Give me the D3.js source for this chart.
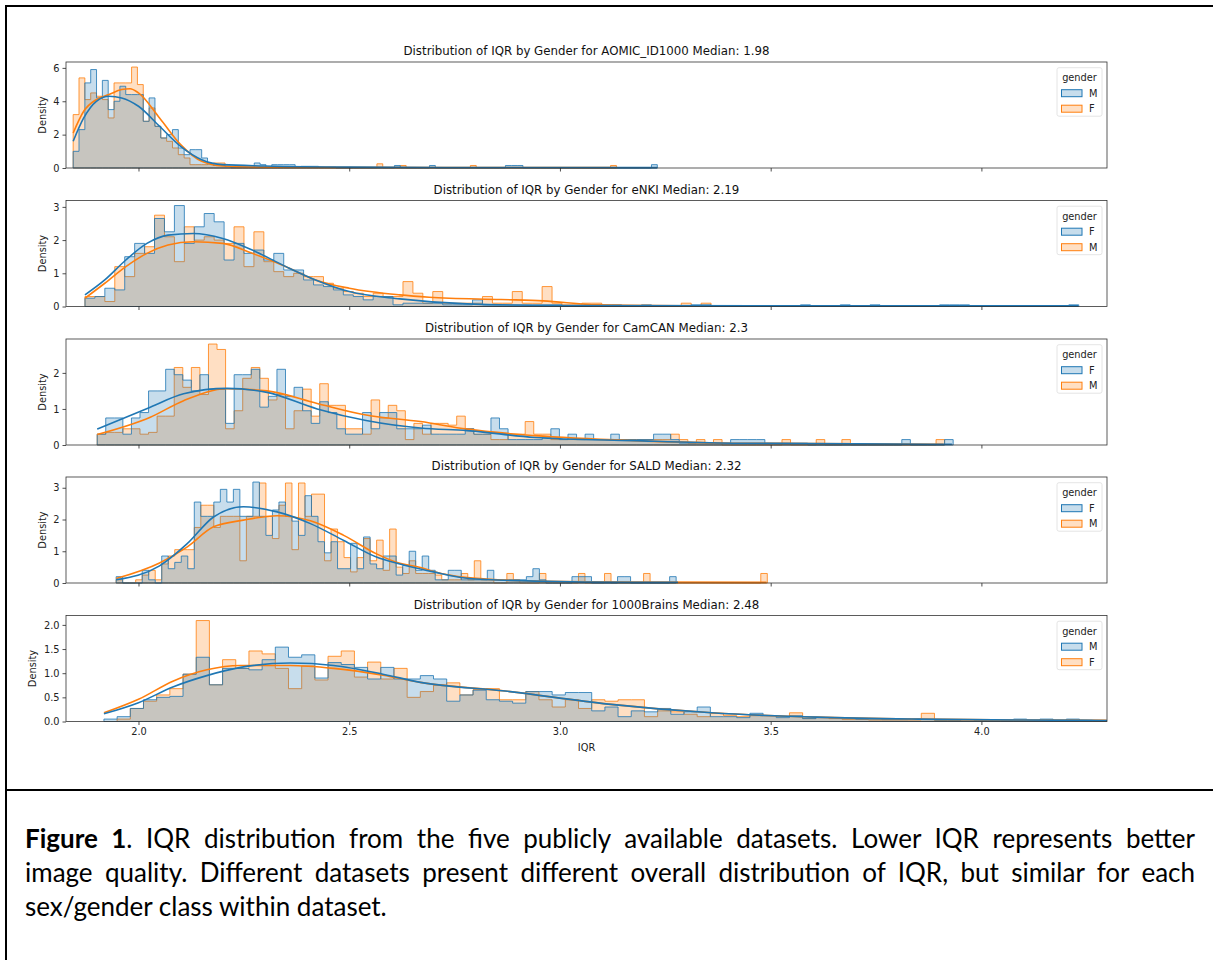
<!DOCTYPE html>
<html>
<head>
<meta charset="utf-8">
<script src="https://cdn.jsdelivr.net/npm/d3@7"></script>
<style>
  body { margin: 0; background: #fff; }
  #wrap { position: relative; width: 1213px; height: 960px; overflow: hidden; }
  svg { position: absolute; left: 0; top: 0; }
  .caption { position: absolute; left: 25px; width: 1170px; font-family: Lato, "Open Sans", sans-serif;
             font-size: 26px; color: #000; line-height: 34px; }
  .caption div { white-space: nowrap; }
  .caption .just { text-align: justify; text-align-last: justify; }
</style>
</head>
<body>
<div id="wrap">
<svg id="chart" width="1213" height="960"></svg>
<div class="caption" style="top:821px">
  <div class="just"><b>Figure 1</b>. IQR distribution from the five publicly available datasets. Lower IQR represents better</div>
  <div class="just">image quality. Different datasets present different overall distribution of IQR, but similar for each</div>
  <div>sex/gender class within dataset.</div>
</div>
</div>
<script>
// ---- data ----
const titles = [
  "Distribution of IQR by Gender for AOMIC_ID1000 Median: 1.98",
  "Distribution of IQR by Gender for eNKI Median: 2.19",
  "Distribution of IQR by Gender for CamCAN Median: 2.3",
  "Distribution of IQR by Gender for SALD Median: 2.32",
  "Distribution of IQR by Gender for 1000Brains Median: 2.48"
];
// hue order per panel: first = blue, second = orange
const legendLabels = [["M", "F"], ["F", "M"], ["F", "M"], ["F", "M"], ["M", "F"]];
const yTicks = [[0, 2, 4, 6], [0, 1, 2, 3], [0, 1, 2], [0, 1, 2, 3], [0, 0.5, 1.0, 1.5, 2.0]];
const xTicks = [2.0, 2.5, 3.0, 3.5, 4.0];

// first bin edge and bin width (IQR units) per panel
const binStart = [1.845, 1.873, 1.902, 1.947, 1.918];
const binWidth = [0.01386, 0.02358, 0.02031, 0.01545, 0.03128];

const aomicBlue = [1.0,2.3,5.1,5.9,4.2,5.25,3.5,4.0,4.9,4.4,4.4,4.4,2.8,4.2,2.5,1.8,2.0,2.3,1.2,0.8,1.1,1.1,0.6,0.25,0.15,0.15,0.1,0.05,0.05,0.05,0.05,0.3,0.2,0.05,0.2,0.2,0.2,0.2,0.05,0.1,0.1,0.1,0.05,0.05,0.05,0,0,0,0,0,0,0,0,0,0,0.15,0,0,0,0,0,0.15,0,0,0,0,0,0,0,0,0,0,0,0,0.15,0.15,0.15,0,0,0,0,0,0,0,0,0,0,0,0,0,0,0,0,0,0,0,0,0,0,0.2];
const aomicOrange = [3.2,5.4,4.1,4.5,4.3,4.1,3.0,5.1,5.1,5.1,6.05,5.0,2.8,3.6,2.5,1.8,1.6,1.2,0.8,0.6,0.2,0.2,0.2,0.25,0.3,0.3,0.1,0,0,0,0,0,0,0,0,0,0,0,0,0,0,0,0,0,0,0,0,0,0,0,0,0,0.25,0,0,0,0.15,0,0,0,0,0,0,0,0,0,0,0,0.15,0,0,0,0,0,0,0,0,0,0,0,0,0,0,0,0,0,0,0,0,0,0,0,0.15];
const aomicKdeBlue = [[1.845,1.6],[1.87,3.0],[1.90,4.0],[1.93,4.3],[1.96,4.2],[2.0,3.7],[2.05,2.5],[2.10,1.3],[2.15,0.5],[2.2,0.2],[2.3,0.12],[2.5,0.05],[2.8,0.03],[3.231,0.02]];
const aomicKdeOrange = [[1.845,2.1],[1.87,3.4],[1.90,4.1],[1.93,4.4],[1.96,4.7],[1.98,4.75],[2.0,4.5],[2.05,3.0],[2.10,1.4],[2.15,0.4],[2.2,0.12],[2.3,0.05],[2.7,0.03],[3.136,0.02]];

const enkiBlue = [0.25,0.3,0.55,0.5,1.5,1.9,1.6,2.65,2.25,3.04,1.9,2.4,2.8,2.55,1.4,1.9,1.6,1.7,1.4,1.6,1.1,1.1,0.8,0.65,0.6,0.5,0.35,0.3,0.2,0.3,0.3,0.05,0.1,0.1,0.1,0.1,0.05,0.05,0.05,0.2,0.05,0.05,0.05,0.05,0.05,0.05,0.05,0.05,0,0,0,0.05,0.05,0.05,0,0,0.05,0,0,0,0,0.05,0.05,0,0,0,0,0,0,0,0,0,0.05,0,0,0,0.05,0,0,0.05,0,0,0,0,0,0,0.05,0.05,0.05,0,0,0,0,0,0,0,0,0,0,0.05];
const enkiOrange = [0.3,0.3,0.15,1.2,0.9,1.6,1.8,2.75,2.1,1.35,2.4,2.0,2.1,2.0,1.9,2.4,1.2,2.25,1.35,1.05,0.9,1.0,0.9,0.9,0.7,0.55,0.45,0.4,0.3,0.4,0.3,0.3,0.75,0.4,0.1,0.45,0.1,0.1,0.1,0.1,0.3,0.1,0.1,0.45,0.1,0.1,0.6,0.1,0.05,0.05,0.1,0.1,0,0,0,0,0,0,0,0,0.1,0,0.1];
const enkiKdeBlue = [[1.873,0.35],[1.92,0.8],[1.97,1.4],[2.02,1.9],[2.07,2.15],[2.13,2.2],[2.2,2.05],[2.27,1.7],[2.35,1.2],[2.42,0.8],[2.5,0.45],[2.62,0.23],[2.78,0.08],[3.0,0.03],[3.5,0.02],[4.23,0.02]];
const enkiKdeOrange = [[1.873,0.25],[1.92,0.7],[1.97,1.2],[2.02,1.6],[2.07,1.85],[2.13,1.95],[2.2,1.9],[2.27,1.6],[2.35,1.2],[2.42,0.8],[2.5,0.55],[2.62,0.35],[2.69,0.28],[2.86,0.21],[2.96,0.17],[3.09,0.05],[3.335,0.02]];

const camBlue = [0.3,0.75,0.75,0.3,0.75,0.9,1.5,1.5,2.1,1.95,1.8,1.5,1.95,1.55,1.55,0.6,1.95,1.95,2.1,1.05,1.35,2.1,1.35,1.6,0.95,0.6,1.2,0.9,0.45,0.3,0.3,0.9,0.45,0.9,0.9,0.45,0.45,0.45,0.55,0.3,0.3,0.3,0.3,0.45,0.3,0.3,0.75,0.45,0.15,0.15,0.15,0.15,0.2,0.45,0.15,0.3,0.15,0.3,0.15,0.15,0.3,0.15,0.15,0.15,0.15,0.3,0.3,0.15,0.05,0.05,0.05,0.05,0.05,0.05,0.15,0.15,0.15,0.15,0.05,0.05,0.05,0.05,0.05,0,0,0,0,0,0,0,0,0,0,0,0.15,0,0,0,0,0.15];
const camOrange = [0.3,0.35,0.35,0.45,0.45,0.3,0.35,0.8,0.8,2.15,1.6,2.15,1.4,2.8,2.65,0.45,0.95,1.85,2.15,1.85,1.25,1.4,0.45,0.95,1.55,0.8,1.7,1.1,1.1,0.45,0.45,0.3,1.25,0.75,1.1,0.95,0.15,0.6,0.3,0.6,0.6,0.55,0.8,0.45,0.3,0.3,0.15,0.15,0.3,0.3,0.65,0.3,0.3,0.15,0.15,0.15,0.15,0.15,0.15,0.15,0.15,0.15,0.15,0.15,0.15,0.15,0.15,0.3,0.15,0.05,0.15,0.05,0.15,0,0,0,0,0,0,0,0.15,0,0,0,0.15,0,0,0.15,0,0,0,0,0,0,0,0,0,0,0.15];
const camKdeBlue = [[1.902,0.44],[2.028,1.05],[2.107,1.42],[2.21,1.57],[2.305,1.46],[2.424,1.0],[2.54,0.68],[2.669,0.47],[2.78,0.4],[2.94,0.21],[3.175,0.12],[3.41,0.05],[3.7,0.03],[3.93,0.02]];
const camKdeOrange = [[1.902,0.29],[2.028,0.77],[2.107,1.23],[2.21,1.56],[2.305,1.5],[2.424,1.15],[2.54,0.83],[2.669,0.65],[2.78,0.44],[2.94,0.26],[3.175,0.12],[3.41,0.05],[3.7,0.03],[3.91,0.02]];

const saldBlue = [0.2,0,0,0,0.4,0.1,0,0.85,0.45,0.65,0.85,0.45,2.55,2.1,2.1,2.55,2.95,2.55,2.95,2.1,2.1,3.18,2.1,1.5,2.3,2.55,2.1,1.95,1.5,2.75,2.1,1.3,0.95,1.3,0.45,0.45,1.25,0.45,1.45,0.6,0.45,0.85,0.85,0.25,0.55,1.0,0.4,0.85,0.4,0.1,0.1,0.4,0.4,0.1,0.1,0.1,0.1,0.4,0.1,0.1,0.1,0.1,0.1,0.2,0.45,0.1,0,0,0,0,0.2,0.2,0.2,0,0,0,0,0.2,0.2,0,0,0,0,0,0,0.2];
const saldOrange = [0.1,0,0,0.1,0.25,0.4,0.1,0.6,0.85,1.05,1.05,1.05,1.75,2.45,2.45,1.75,2.1,2.1,2.1,0.7,2.1,2.1,3.15,2.1,1.4,2.45,3.15,1.05,3.15,2.1,2.8,2.8,0.7,1.7,1.3,0.8,0.35,0.8,1.4,0.7,1.35,0.4,1.7,0.5,0.3,0.7,0.3,0.3,0.3,0.25,0.1,0.1,0.1,0.3,0.1,0.7,0.1,0.1,0,0,0.3,0.1,0,0,0,0.3,0,0,0,0,0,0.3,0,0,0,0.3,0,0,0,0,0,0.3,0,0,0,0,0,0,0,0,0,0,0,0,0,0,0,0,0,0.3];
const saldKdeBlue = [[1.947,0.1],[2.05,0.54],[2.115,1.23],[2.178,2.08],[2.249,2.4],[2.329,2.24],[2.408,1.87],[2.487,1.34],[2.566,0.81],[2.62,0.6],[2.669,0.44],[2.70,0.35],[2.78,0.15],[2.94,0.06],[3.175,0.02],[3.28,0.02]];
const saldKdeOrange = [[1.947,0.14],[2.05,0.63],[2.115,1.13],[2.178,1.77],[2.249,1.98],[2.329,2.12],[2.408,1.96],[2.487,1.5],[2.566,0.91],[2.62,0.62],[2.669,0.49],[2.70,0.36],[2.78,0.17],[2.94,0.06],[3.175,0.03],[3.49,0.02]];

const brainsBlue = [0.05,0.1,0.27,0.45,0.5,0.52,0.98,1.33,0.76,1.1,1.1,1.07,1.28,1.54,1.33,1.38,0.9,1.22,1.18,1.12,0.88,1.12,0.88,0.88,0.95,0.88,0.42,0.55,0.65,0.45,0.42,0.38,0.62,0.62,0.55,0.6,0.6,0.22,0.3,0.1,0.22,0.2,0.27,0.15,0.2,0.3,0.1,0.1,0.08,0.17,0.12,0.08,0.12,0.06,0.08,0.08,0.07,0.05,0.05,0.04,0.04,0.05,0.04,0.03,0.03,0.04,0.03,0.03,0.03,0.05,0.03,0.05,0.03,0.05,0.03,0.02,0.02];
const brainsOrange = [0,0.05,0.27,0.42,0.55,0.68,0.98,2.09,0.76,1.28,1.1,1.46,1.4,1.1,0.68,1.15,0.86,1.35,1.46,0.92,1.23,0.88,1.1,0.5,0.62,0.75,0.8,0.55,0.66,0.68,0.45,0.45,0.62,0.45,0.3,0.45,0.27,0.45,0.42,0.45,0.45,0.1,0.22,0.2,0.15,0.1,0.17,0.12,0.1,0.12,0.12,0.1,0.18,0.06,0.08,0.06,0.04,0.04,0.03,0.03,0.03,0.03,0.17,0.02,0.02,0.03,0.02,0.02,0.02,0.02,0.02,0.02,0.02,0.03,0.02,0.03,0.02];
const brainsKdeBlue = [[1.918,0.16],[2.0,0.39],[2.083,0.72],[2.162,0.95],[2.242,1.12],[2.36,1.21],[2.463,1.16],[2.58,0.98],[2.669,0.81],[2.87,0.63],[3.115,0.36],[3.36,0.18],[3.61,0.09],[3.85,0.05],[4.10,0.03],[4.35,0.02]];
const brainsKdeOrange = [[1.918,0.18],[2.0,0.46],[2.083,0.84],[2.162,1.07],[2.242,1.16],[2.36,1.16],[2.463,1.1],[2.58,0.96],[2.669,0.81],[2.87,0.63],[3.115,0.36],[3.36,0.18],[3.61,0.09],[3.85,0.05],[4.10,0.03],[4.35,0.02]];

const blueHist = [aomicBlue, enkiBlue, camBlue, saldBlue, brainsBlue];
const orangeHist = [aomicOrange, enkiOrange, camOrange, saldOrange, brainsOrange];
const blueKde = [aomicKdeBlue, enkiKdeBlue, camKdeBlue, saldKdeBlue, brainsKdeBlue];
const orangeKde = [aomicKdeOrange, enkiKdeOrange, camKdeOrange, saldKdeOrange, brainsKdeOrange];

// ---- layout ----
const BLUE = "#1f77b4", ORANGE = "#ff7f0e";
const AX = { left: 66, right: 1107, height: 106 };
const panelTops = [62, 200.5, 339, 477, 615.5];
const densityX = [43, 43, 43, 43, 33];
const FONT = "'DejaVu Sans', sans-serif";
const SMALL = 9.8;

const $svg = d3.select("#chart");

// figure frame
$svg.append("path")
  .attr("d", "M6,1000 V6 H1220 M6,790 H1220")
  .attr("fill", "none").attr("stroke", "#000").attr("stroke-width", 2);

const x = d3.scaleLinear().domain([1.828, 4.298]).range([AX.left, AX.right]);

$svg.append("clipPath").attr("id", "plotclip")
  .append("rect").attr("x", AX.left).attr("y", 0).attr("width", AX.right - AX.left).attr("height", 960);

panelTops.forEach(function(top, p) {
  const bottom = top + AX.height;
  const blue = blueHist[p], orange = orangeHist[p];
  const ymax = d3.max(blue.concat(orange)) * 1.05;
  const y = d3.scaleLinear().domain([0, ymax]).range([bottom, top]);

  const g = $svg.append("g");
  const plot = g.append("g").attr("clip-path", "url(#plotclip)");

  // step histograms, orange underneath, blue on top
  const area = d3.area()
    .curve(d3.curveStepAfter)
    .x(d => x(d.x)).y0(y(0)).y1(d => y(d.h));

  [[orange, ORANGE], [blue, BLUE]].forEach(function(s) {
    const vals = s[0];
    const pts = vals.map((h, i) => ({ x: binStart[p] + i * binWidth[p], h: h }));
    pts.push({ x: binStart[p] + vals.length * binWidth[p], h: vals[vals.length - 1] });
    plot.append("path")
      .datum(pts)
      .attr("d", d => area(d) )
      .attr("fill", s[1]).attr("fill-opacity", 0.25)
      .attr("stroke", s[1]).attr("stroke-opacity", 0.8).attr("stroke-width", 1)
      .attr("stroke-linejoin", "miter");
  });

  // kde curves
  const line = d3.line().curve(d3.curveMonotoneX).x(d => x(d[0])).y(d => y(d[1]));
  [[orangeKde[p], ORANGE], [blueKde[p], BLUE]].forEach(function(s) {
    plot.append("path").datum(s[0]).attr("d", line)
      .attr("fill", "none").attr("stroke", s[1]).attr("stroke-width", 1.6);
  });

  // axes
  const xa = g.append("g").attr("transform", `translate(0,${bottom})`)
    .call(d3.axisBottom(x).tickValues(xTicks).tickSize(3.5).tickPadding(3)
      .tickFormat(p === 4 ? d3.format(".1f") : ""));
  const ya = g.append("g").attr("transform", `translate(${AX.left},0)`)
    .call(d3.axisLeft(y).tickValues(yTicks[p]).tickSize(3.5).tickPadding(3)
      .tickFormat(p === 4 ? d3.format(".1f") : d3.format("d")));
  [xa, ya].forEach(a => {
    a.select(".domain").remove();
    a.selectAll("line").attr("stroke", "#222").attr("stroke-width", 0.8);
    a.selectAll("text").attr("font-family", FONT).attr("font-size", SMALL).attr("fill", "#222");
  });

  // frame
  g.append("rect").attr("x", AX.left).attr("y", top)
    .attr("width", AX.right - AX.left).attr("height", AX.height)
    .attr("fill", "none").attr("stroke", "#333").attr("stroke-width", 0.8);

  g.append("text").attr("x", (AX.left + AX.right) / 2).attr("y", top - 7)
    .attr("text-anchor", "middle").attr("font-family", FONT).attr("font-size", 11.8)
    .attr("fill", "#111").text(titles[p]);

  g.append("text")
    .attr("transform", `translate(${densityX[p]},${(top + bottom) / 2}) rotate(-90)`)
    .attr("text-anchor", "middle").attr("dy", "0.35em").attr("font-family", FONT).attr("font-size", SMALL)
    .attr("fill", "#222").text("Density");

  // legend
  const lg = g.append("g").attr("transform", `translate(1057,${top + 5.7})`);
  lg.append("rect").attr("width", 45).attr("height", 48.5).attr("rx", 2)
    .attr("fill", "#fff").attr("fill-opacity", 0.8).attr("stroke", "#ddd").attr("stroke-width", 0.8);
  lg.append("text").attr("x", 22.5).attr("y", 13.5).attr("text-anchor", "middle")
    .attr("font-family", FONT).attr("font-size", SMALL).attr("fill", "#222").text("gender");
  [BLUE, ORANGE].forEach(function(c, i) {
    const yy = 22 + i * 15.5;
    lg.append("rect").attr("x", 4.5).attr("y", yy).attr("width", 20.5).attr("height", 7)
      .attr("fill", c).attr("fill-opacity", 0.25).attr("stroke", c).attr("stroke-width", 1);
    lg.append("text").attr("x", 32).attr("y", yy + 7).attr("font-family", FONT)
      .attr("font-size", SMALL).attr("fill", "#222").text(legendLabels[p][i]);
  });

  if (p === 4) {
    g.append("text").attr("x", (AX.left + AX.right) / 2).attr("y", bottom + 29)
      .attr("text-anchor", "middle").attr("font-family", FONT).attr("font-size", SMALL)
      .attr("fill", "#222").text("IQR");
  }
});
</script>
</body>
</html>
